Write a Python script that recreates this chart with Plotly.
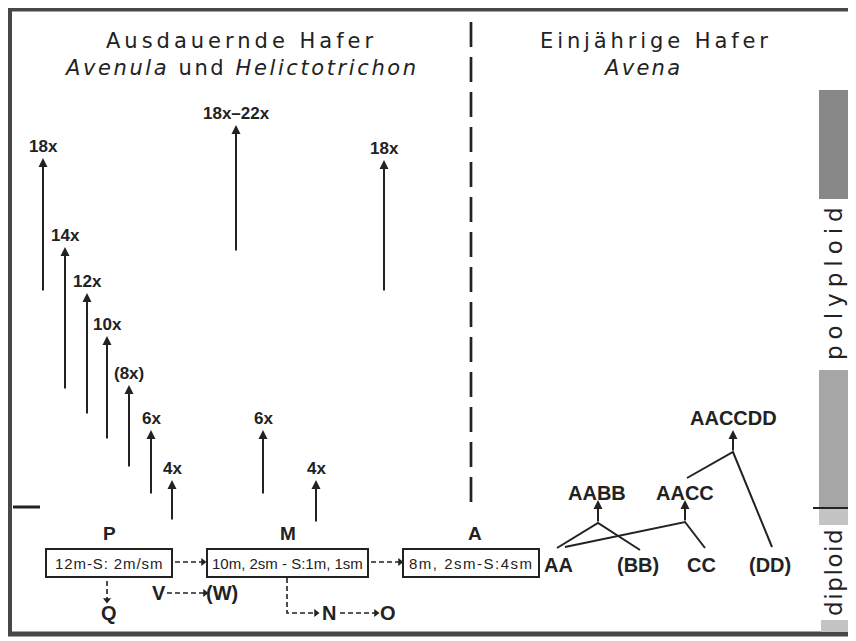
import plotly.graph_objects as go

# ---------------- data ----------------
header_left = ["Ausdauernde Hafer", "<i>Avenula</i> und <i>Helictotrichon</i>"]
header_right = ["Einjährige Hafer", "<i>Avena</i>"]

# ploidy series arising in perennial oats (label, x, base, tip)
ploidy_labels = ["18x", "14x", "12x", "10x", "(8x)", "6x", "4x", "18x–22x", "6x", "4x", "18x"]
ploidy_x = [43, 65, 87, 107, 129, 151, 172, 236, 263, 316, 384]
ploidy_base = [292, 390, 415, 440, 468, 495, 521, 252, 495, 523, 292]
ploidy_tip = [158, 247, 293, 336, 385, 430, 480, 125, 430, 480, 160]

# karyotype groups
group_labels = ["P", "M", "A"]
karyotypes = ["12m-S: 2m/sm", "10m, 2sm - S:1m, 1sm", "8m, 2sm-S:4sm"]
box_left = [46, 207, 403]
box_right = [172, 368, 539]
karyo_spacing = [0.9, 0.0, 1.5]

# derived groups
side_labels = ["Q", "V", "(W)", "N", "O"]
side_x = [109, 159, 222, 329, 388]
side_y = [613, 593, 593, 613, 613]

# annual oats genomes
diploid_genomes = ["AA", "(BB)", "CC", "(DD)"]
diploid_x = [558, 638, 701, 770]
polyploid_genomes = ["AABB", "AACC", "AACCDD"]
polyploid_x = [597, 685, 733]
polyploid_y = [493, 493, 418]

# hybridisation junctions and parent attachment points
junction_x = [598, 685, 733]
junction_y = [523, 522, 452]
parent_a = [(557, 548), (565, 547), (687, 478)]
parent_b = [(640, 550), (705, 548), (772, 547)]
arrow_tip_y = [500, 500, 430]

level_labels = ["polyploid", "diploid"]

INK = "#222222"
W, H = 856, 641
OFF = 8  # page body margin

fig = go.Figure()
ann = []
shapes = []


def text(x, y, s, size, bold=False, family="Liberation Sans, Arial, sans-serif", xanchor="center", angle=0):
    ann.append(dict(x=x, y=y, xref="x", yref="y", text=(f"<b>{s}</b>" if bold else s),
                    showarrow=False, xanchor=xanchor, yanchor="middle", textangle=angle,
                    font=dict(size=size, color=INK, family=family)))


def arrow(x, y_from, y_to, width=2):
    ann.append(dict(x=x, y=y_to, ax=x, ay=y_from,
                    xref="x", yref="y", axref="x", ayref="y", text="", showarrow=True,
                    arrowhead=2, arrowsize=0.9, arrowwidth=width, arrowcolor=INK, standoff=0))


def spaced(s, px):
    return f'<span style="letter-spacing:{px}px">{s}</span>'


# frame
shapes.append(dict(type="rect", xref="x", yref="y", x0=9.5, y0=9, x1=851, y1=634,
                   line=dict(color="#474747", width=5)))

# level bar on the right
shapes.append(dict(type="rect", xref="x", yref="y", x0=819, x1=848, y0=90, y1=199,
                   fillcolor="#888888", line=dict(width=0)))
shapes.append(dict(type="rect", xref="x", yref="y", x0=819, x1=848, y0=370, y1=507,
                   fillcolor="#a6a6a6", line=dict(width=0)))
shapes.append(dict(type="rect", xref="x", yref="y", x0=819, x1=848, y0=509, y1=525,
                   fillcolor="#c4c4c4", line=dict(width=0)))
shapes.append(dict(type="rect", xref="x", yref="y", x0=821, x1=848, y0=620, y1=632,
                   fillcolor="#c4c4c4", line=dict(width=0)))
shapes.append(dict(type="line", xref="x", yref="y", x0=813, x1=848, y0=508, y1=508,
                   line=dict(color=INK, width=2)))
shapes.append(dict(type="line", xref="x", yref="y", x0=13, x1=40, y0=507, y1=507,
                   line=dict(color=INK, width=3)))
text(834, 281, spaced(level_labels[0], 6), 23, family="DejaVu Sans, sans-serif", angle=-90)
text(834, 572, spaced(level_labels[1], 1.6), 23, family="DejaVu Sans, sans-serif", angle=-90)

# separating dashed line
fig.add_trace(go.Scatter(x=[471, 471], y=[22, 512], mode="lines",
                         line=dict(color=INK, width=2.7, dash="25px,10px"), hoverinfo="skip"))

# headers
hfam = "DejaVu Sans, sans-serif"
text(241, 41, spaced(header_left[0], 4.0), 21, family=hfam)
text(241, 68, spaced(header_left[1], 2.6), 21, family=hfam)
text(656, 41, spaced(header_right[0], 3.9), 21, family=hfam)
text(642, 68, spaced(header_right[1], 2.3), 21, family=hfam)

# ploidy arrows
for lab, x, b, t in zip(ploidy_labels, ploidy_x, ploidy_base, ploidy_tip):
    arrow(x, b, t)
    text(x, t - 12, lab, 17, bold=True)

# karyotype boxes
for g, k, x0, x1, sp in zip(group_labels, karyotypes, box_left, box_right, karyo_spacing):
    shapes.append(dict(type="rect", xref="x", yref="y", x0=x0, x1=x1, y0=549, y1=577,
                       line=dict(color=INK, width=2)))
    cx = (x0 + x1) / 2
    text(cx, 563, spaced(k, sp), 15)
    text(cx + (4 if g == "A" else 0), 533, g, 19, bold=True)

# dashed connectors
dx, dy = [], []
segs = [
    [(175, 562), (202, 562)],
    [(371, 562), (399, 562)],
    [(107, 581), (107, 599)],
    [(167, 593), (204, 593)],
    [(287, 578), (287, 613), (315, 613)],
    [(340, 613), (375, 613)],
]
for s in segs:
    for p in s:
        dx.append(p[0]); dy.append(p[1])
    dx.append(None); dy.append(None)
fig.add_trace(go.Scatter(x=dx, y=dy, mode="lines", line=dict(color=INK, width=1.6, dash="5px,3px"),
                         hoverinfo="skip"))
fig.add_trace(go.Scatter(x=[203, 400, 205, 316, 376], y=[562, 562, 593, 613, 613], mode="markers",
                         marker=dict(symbol="triangle-right", size=7, color=INK), hoverinfo="skip"))
fig.add_trace(go.Scatter(x=[107], y=[600], mode="markers",
                         marker=dict(symbol="triangle-down", size=7, color=INK), hoverinfo="skip"))

for lab, x, y in zip(side_labels, side_x, side_y):
    text(x, y, lab, 20, bold=True)

# annual oats genomes
for g, x in zip(diploid_genomes, diploid_x):
    text(x, 565, g, 20, bold=True)
for g, x, y in zip(polyploid_genomes, polyploid_x, polyploid_y):
    text(x, y, g, 20, bold=True)

lx, ly = [], []
for (ax_, ay_), (bx, by), jx, jy in zip(parent_a, parent_b, junction_x, junction_y):
    lx += [ax_, jx, bx, None]
    ly += [ay_, jy, by, None]
fig.add_trace(go.Scatter(x=lx, y=ly, mode="lines", line=dict(color=INK, width=2), hoverinfo="skip"))
for jx, jy, ty in zip(junction_x, junction_y, arrow_tip_y):
    arrow(jx, jy, ty)

fig.update_layout(
    width=W - OFF, height=H - OFF, margin=dict(l=0, r=0, t=0, b=0),
    paper_bgcolor="white", plot_bgcolor="white", showlegend=False,
    xaxis=dict(range=[OFF, W], visible=False, fixedrange=True),
    yaxis=dict(range=[H, OFF], visible=False, fixedrange=True),
    annotations=ann, shapes=shapes,
)
fig.write_html("out.html")
